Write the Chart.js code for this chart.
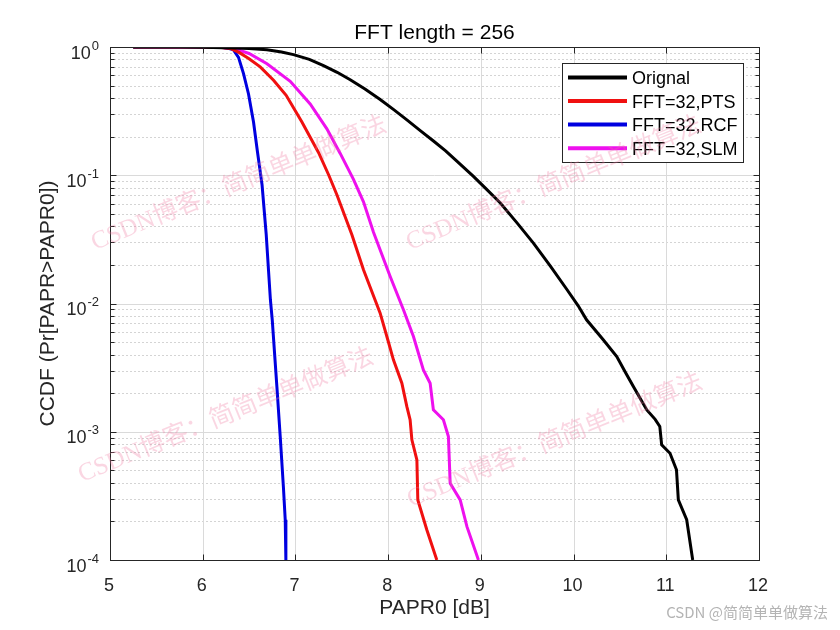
<!DOCTYPE html>
<html><head><meta charset="utf-8">
<script src="https://cdn.jsdelivr.net/npm/chart.js@4"></script>
<style>html,body{margin:0;padding:0;background:#fff}canvas{display:block}</style>
</head><body>
<canvas id="c" width="840" height="630"></canvas>
<script>
const titleText = 'FFT length = 256';
const xLabel = 'PAPR0 [dB]';
const yLabel = 'CCDF (Pr[PAPR>PAPR0])';
const seriesNames = ['Orignal', 'FFT=32,PTS', 'FFT=32,RCF', 'FFT=32,SLM'];
const seriesColors = ['#000000', '#f01010', '#0000e0', '#ee10ee'];
const xTicks = [5, 6, 7, 8, 9, 10, 11, 12];
const yTicks = [1e-4, 1e-3, 1e-2, 1e-1, 1];
const yTickExp = ['-4', '-3', '-2', '-1', '0'];
const watermarkText = 'CSDN博客：简简单单做算法';
const footerText = 'CSDN @简简单单做算法';

const origX = [5.25, 5.76, 6.0, 6.33, 6.5, 6.693, 6.85, 6.979, 7.15, 7.303, 7.45, 7.591, 7.75, 7.914, 8.06, 8.202, 8.35, 8.489, 8.62, 8.741, 8.92, 9.06, 9.21, 9.39, 9.567, 9.75, 9.93, 10.05, 10.14, 10.32, 10.466, 10.56, 10.645, 10.79, 10.88, 10.93, 10.95, 11.04, 11.11, 11.13, 11.22, 11.285];
const origY = [1, 0.999, 0.997, 0.984, 0.972, 0.950, 0.915, 0.872, 0.80, 0.715, 0.635, 0.556, 0.47, 0.39, 0.325, 0.27, 0.222, 0.185, 0.155, 0.129, 0.098, 0.078, 0.0607, 0.0425, 0.0296, 0.0196, 0.0128, 0.0096, 0.00746, 0.00521, 0.00386, 0.0029, 0.00225, 0.00148, 0.00125, 0.00110, 0.00079, 0.00068, 0.000505, 0.000294, 0.000206, 0.0001];

const ptsX = [5.25, 6.0, 6.2, 6.3, 6.4, 6.5, 6.62, 6.764, 6.9, 7.07, 7.25, 7.36, 7.447, 7.609, 7.734, 7.914, 8.0, 8.057, 8.148, 8.202, 8.237, 8.256, 8.31, 8.32, 8.417, 8.525];
const ptsY = [1, 0.999, 0.993, 0.975, 0.90, 0.81, 0.70, 0.55, 0.42, 0.26, 0.15, 0.10, 0.0705, 0.0344, 0.0183, 0.00841, 0.0051, 0.00364, 0.00239, 0.00157, 0.00124, 0.000865, 0.000604, 0.000294, 0.000172, 0.0001];

const rcfX = [5.25, 6.0, 6.2, 6.26, 6.33, 6.386, 6.44, 6.494, 6.548, 6.59, 6.64, 6.685, 6.73, 6.75, 6.80, 6.836, 6.87, 6.89, 6.897];
const rcfY = [1, 0.999, 0.994, 0.982, 0.955, 0.83, 0.62, 0.43, 0.26, 0.153, 0.0843, 0.0344, 0.0107, 0.00746, 0.00225, 0.000918, 0.000374, 0.000206, 0.0001];

const slmX = [5.25, 6.0, 6.2, 6.369, 6.5, 6.693, 6.944, 7.159, 7.339, 7.483, 7.626, 7.734, 7.842, 8.022, 8.165, 8.273, 8.38, 8.453, 8.488, 8.596, 8.65, 8.669, 8.777, 8.85, 8.974];
const slmY = [1, 0.999, 0.995, 0.955, 0.89, 0.74, 0.54, 0.36, 0.23, 0.148, 0.093, 0.062, 0.036, 0.01626, 0.00893, 0.00553, 0.00304, 0.00239, 0.00148, 0.00124, 0.000918, 0.000397, 0.000294, 0.000182, 0.0001];

const seriesX = [origX, ptsX, rcfX, slmX];
const seriesY = [origY, ptsY, rcfY, slmY];

const AX = '#262626';
const FONT = "'Liberation Sans', Arial, sans-serif";

const matlabAxes = {
  id: 'matlabAxes',
  beforeDatasetsDraw(chart) {
    const {ctx, chartArea: a, scales: {x, y}} = chart;
    ctx.save();
    ctx.strokeStyle = '#d4d4d4';
    ctx.lineWidth = 1;
    ctx.setLineDash([2, 2]);
    for (let d = 0; d < yTicks.length - 1; d++) {
      for (let m = 2; m <= 9; m++) {
        const py = Math.round(y.getPixelForValue(yTicks[d] * m)) + 0.5;
        ctx.beginPath(); ctx.moveTo(a.left, py); ctx.lineTo(a.right, py); ctx.stroke();
      }
    }
    ctx.setLineDash([]);
    ctx.strokeStyle = '#dadada';
    yTicks.forEach(v => {
      const py = Math.round(y.getPixelForValue(v)) + 0.5;
      ctx.beginPath(); ctx.moveTo(a.left, py); ctx.lineTo(a.right, py); ctx.stroke();
    });
    xTicks.forEach(v => {
      const px = Math.round(x.getPixelForValue(v)) + 0.5;
      ctx.beginPath(); ctx.moveTo(px, a.top); ctx.lineTo(px, a.bottom); ctx.stroke();
    });
    ctx.restore();
  },
  afterDraw(chart) {
    const {ctx, chartArea: a, scales: {x, y}} = chart;
    ctx.save();
    ctx.strokeStyle = AX; ctx.lineWidth = 1;
    const L = Math.round(a.left) + 0.5, R = Math.round(a.right) + 0.5, T = Math.round(a.top) + 0.5, B = Math.round(a.bottom) + 0.5;
    ctx.strokeRect(L, T, R - L, B - T);
    ctx.beginPath();
    xTicks.forEach(v => {
      const px = Math.round(x.getPixelForValue(v)) + 0.5;
      ctx.moveTo(px, B); ctx.lineTo(px, B - 6);
      ctx.moveTo(px, T); ctx.lineTo(px, T + 6);
    });
    yTicks.forEach(v => {
      const py = Math.round(y.getPixelForValue(v)) + 0.5;
      ctx.moveTo(L, py); ctx.lineTo(L + 6, py);
      ctx.moveTo(R, py); ctx.lineTo(R - 6, py);
    });
    for (let d = 0; d < yTicks.length - 1; d++) {
      for (let m = 2; m <= 9; m++) {
        const py = Math.round(y.getPixelForValue(yTicks[d] * m)) + 0.5;
        ctx.moveTo(L, py); ctx.lineTo(L + 4, py);
        ctx.moveTo(R, py); ctx.lineTo(R - 4, py);
      }
    }
    ctx.stroke();

    ctx.fillStyle = AX;
    ctx.font = '18px ' + FONT;
    ctx.textAlign = 'center'; ctx.textBaseline = 'alphabetic';
    xTicks.forEach(v => {
      ctx.fillText(String(v), x.getPixelForValue(v) - 1, a.bottom + 30.5);
    });
    yTicks.forEach((v, i) => {
      const py = y.getPixelForValue(v);
      ctx.font = '13px ' + FONT;
      const wE = ctx.measureText(yTickExp[i]).width;
      ctx.textAlign = 'left';
      const right = a.left - 11;
      ctx.fillText(yTickExp[i], right - wE, py + 2.7);
      ctx.font = '18px ' + FONT;
      const wB = ctx.measureText('10').width;
      ctx.fillText('10', right - wE - 1 - wB, py + 11.5);
    });
    ctx.font = '21px ' + FONT;
    ctx.textAlign = 'center';
    const cx = (a.left + a.right) / 2;
    ctx.fillText(xLabel, cx, 613.5);
    ctx.fillStyle = '#000';
    ctx.fillText(titleText, cx, 39.3);
    ctx.fillStyle = AX;
    ctx.save();
    ctx.translate(54, (a.top + a.bottom) / 2);
    ctx.rotate(-Math.PI / 2);
    ctx.fillText(yLabel, 0, 0);
    ctx.restore();

    const lx = 562.5, ly = 63.5, lw = 181, lh = 99;
    ctx.fillStyle = '#fff';
    ctx.fillRect(lx, ly, lw, lh);
    ctx.strokeStyle = AX; ctx.lineWidth = 1;
    ctx.strokeRect(lx, ly, lw, lh);
    const rows = [77.5, 101, 124.5, 148.3];
    ctx.font = '18px ' + FONT;
    ctx.textAlign = 'left'; ctx.textBaseline = 'alphabetic';
    seriesNames.forEach((n, i) => {
      ctx.strokeStyle = seriesColors[i]; ctx.lineWidth = 4;
      ctx.beginPath(); ctx.moveTo(568, rows[i]); ctx.lineTo(627, rows[i]); ctx.stroke();
      ctx.fillStyle = '#000';
      ctx.fillText(n, 632, rows[i] + 6.5);
    });

    ctx.fillStyle = 'rgba(238,120,160,0.30)';
    ctx.font = "25px 'Liberation Serif', 'Noto Sans CJK SC', serif";
    ctx.textAlign = 'left';
    [[95, 250], [410, 250], [82, 482], [411, 507]].forEach(p => {
      ctx.save();
      ctx.translate(p[0], p[1]);
      ctx.rotate(-22.2 * Math.PI / 180);
      ctx.fillText(watermarkText, 0, 0);
      ctx.restore();
    });
    ctx.fillStyle = '#b4b4b4';
    ctx.font = "15px 'Noto Sans CJK SC', sans-serif";
    ctx.textAlign = 'right'; ctx.textBaseline = 'middle';
    ctx.fillText(footerText, 828, 612);
    ctx.restore();
  }
};

new Chart(document.getElementById('c'), {
  type: 'scatter',
  data: {
    datasets: seriesNames.map((n, i) => ({
      label: n,
      data: seriesX[i].map((xv, j) => ({x: xv, y: seriesY[i][j]})),
      showLine: true,
      borderColor: seriesColors[i],
      backgroundColor: seriesColors[i],
      borderWidth: 3,
      pointRadius: 0,
      tension: 0,
      fill: false
    }))
  },
  options: {
    responsive: false,
    animation: false,
    devicePixelRatio: 1,
    layout: {padding: {left: 110, right: 81, top: 47, bottom: 70}},
    plugins: {legend: {display: false}, title: {display: false}, tooltip: {enabled: false}},
    scales: {
      x: {type: 'linear', min: 5, max: 12, display: false},
      y: {type: 'logarithmic', min: 1e-4, max: 1, display: false}
    }
  },
  plugins: [matlabAxes]
});
</script>
</body></html>
